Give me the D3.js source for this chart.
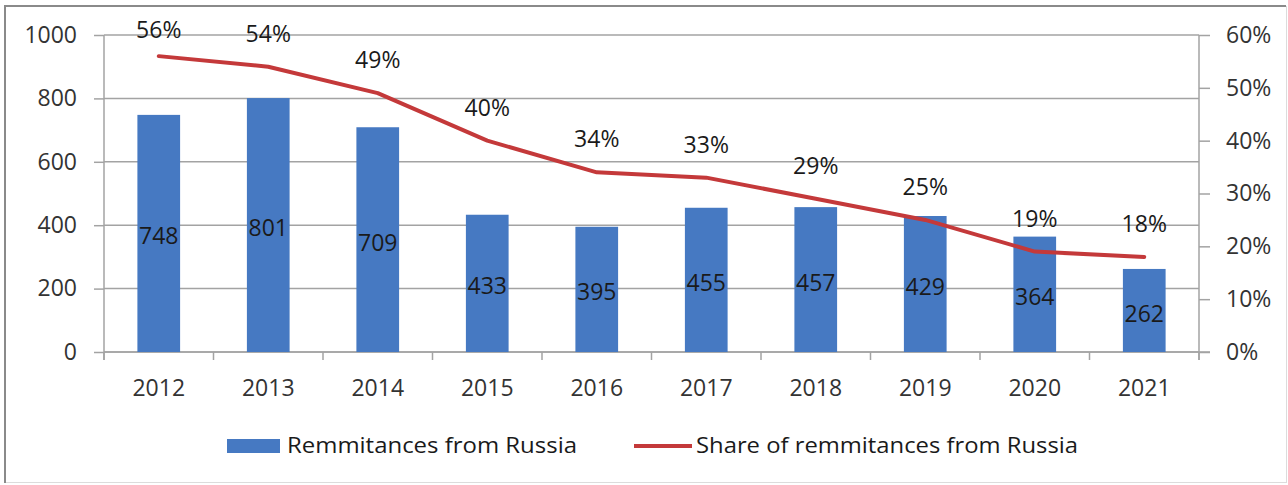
<!DOCTYPE html>
<html>
<head>
<meta charset="utf-8">
<script src="https://cdn.jsdelivr.net/npm/d3@7"></script>
<style>
  body { margin: 0; background: #fff; }
  svg { display: block; font-family: "Open Sans", sans-serif; }
</style>
</head>
<body>
<div class="canvas"></div>
<script>
// data
const years = ['2012', '2013', '2014', '2015', '2016', '2017', '2018', '2019', '2020', '2021'];
const remittances = [748, 801, 709, 433, 395, 455, 457, 429, 364, 262];
const shares = [56, 54, 49, 40, 34, 33, 29, 25, 19, 18];
const leftTicks = [0, 200, 400, 600, 800, 1000];
const rightTicks = [0, 10, 20, 30, 40, 50, 60];
const seriesNames = ['Remmitances from Russia', 'Share of remmitances from Russia'];

const width = 1288, height = 485;
const plot = { left: 104, right: 1199, top: 35, bottom: 352 };

const svg = d3.select('.canvas')
  .append('svg')
  .attr('width', width)
  .attr('height', height);

// chart frame
svg.append('rect')
  .attr('x', 4.5).attr('y', 6.5)
  .attr('width', 1282).attr('height', 476)
  .attr('fill', '#fff')
  .attr('stroke', '#dcdcdc')
  .attr('stroke-width', 1);
svg.append('path')
  .attr('d', 'M5,483 V6 H1286')
  .attr('fill', 'none')
  .attr('stroke', '#8a8a8a')
  .attr('stroke-width', 2);

// scales
const xCat = d3.scaleBand()
  .domain(years)
  .range([plot.left, plot.right]);

const xBar = d3.scaleBand()
  .domain(years)
  .range([plot.left, plot.right])
  .paddingInner(0.61)
  .paddingOuter(0.305);

const y = d3.scaleLinear()
  .domain([0, 1000])
  .range([plot.bottom, plot.top]);

const yR = d3.scaleLinear()
  .domain([0, 60])
  .range([plot.bottom, plot.top]);

const gridColor = '#a3a3a3';

// gridlines
svg.append('g')
  .selectAll('line')
  .data(leftTicks)
  .enter()
  .append('line')
  .attr('x1', plot.left).attr('x2', plot.right)
  .attr('y1', d => y(d)).attr('y2', d => y(d))
  .attr('stroke', gridColor)
  .attr('stroke-width', 1.5);

// left axis
const yAxis = d3.axisLeft(y)
  .tickValues(leftTicks)
  .tickSize(10)
  .tickPadding(17)
  .tickFormat(d => `${d}`);
const yAxisGroup = svg.append('g')
  .attr('transform', `translate(${plot.left}, 0)`)
  .call(yAxis);

// right axis
const yAxisR = d3.axisRight(yR)
  .tickValues(rightTicks)
  .tickSize(11)
  .tickPadding(16)
  .tickFormat(d => `${d}%`);
const yAxisRGroup = svg.append('g')
  .attr('transform', `translate(${plot.right}, 0)`)
  .call(yAxisR);

// bottom axis (labels at category centres, ticks between categories)
const xAxis = d3.axisBottom(xCat)
  .tickSize(0)
  .tickPadding(28);
const xAxisGroup = svg.append('g')
  .attr('transform', `translate(0, ${plot.bottom})`)
  .call(xAxis);

xAxisGroup.selectAll('.tick.sep')
  .data(years.map(d => xCat(d)).concat([plot.right]))
  .enter()
  .append('line')
  .attr('class', 'sep')
  .attr('x1', d => d).attr('x2', d => d)
  .attr('y1', 0).attr('y2', 8)
  .attr('stroke', gridColor)
  .attr('stroke-width', 1.5);

[yAxisGroup, yAxisRGroup, xAxisGroup].forEach(g => {
  g.select('.domain').attr('stroke', gridColor).attr('stroke-width', 1.5);
  g.selectAll('.tick line').attr('stroke', gridColor).attr('stroke-width', 1.5);
  g.selectAll('text')
    .attr('font-size', 23)
    .attr('font-family', '"Open Sans", sans-serif')
    .attr('fill', '#333');
});
xAxisGroup.select('.domain').attr('d', `M${plot.left},0H${plot.right + 11}`);
yAxisGroup.select('.domain').attr('d', `M0,${plot.top}V${plot.bottom + 8}`);
yAxisRGroup.select('.domain').attr('d', `M0,${plot.top}V${plot.bottom + 8}`);

// bars
svg.append('g')
  .selectAll('rect')
  .data(remittances)
  .enter()
  .append('rect')
  .attr('x', (d, i) => xBar(years[i]))
  .attr('y', d => y(d))
  .attr('width', xBar.bandwidth())
  .attr('height', d => plot.bottom - y(d))
  .attr('fill', '#4679c2');

// line
const line = d3.line()
  .x((d, i) => xCat(years[i]) + xCat.bandwidth() / 2)
  .y(d => yR(d));

svg.append('path')
  .datum(shares)
  .attr('d', line)
  .attr('fill', 'none')
  .attr('stroke', '#c4393a')
  .attr('stroke-width', 4)
  .attr('stroke-linejoin', 'round')
  .attr('stroke-linecap', 'round');

// bar value labels (centred in bar)
svg.append('g')
  .selectAll('text')
  .data(remittances)
  .enter()
  .append('text')
  .attr('x', (d, i) => xCat(years[i]) + xCat.bandwidth() / 2)
  .attr('y', d => y(d / 2) + 3)
  .attr('dy', '0.35em')
  .attr('text-anchor', 'middle')
  .attr('font-size', 23)
  .attr('fill', '#1a1a1a')
  .text(d => d);

// share labels (above points, kept inside the chart top)
svg.append('g')
  .selectAll('text')
  .data(shares)
  .enter()
  .append('text')
  .attr('x', (d, i) => xCat(years[i]) + xCat.bandwidth() / 2)
  .attr('y', d => Math.max(yR(d) - 33, 30))
  .attr('dy', '0.35em')
  .attr('text-anchor', 'middle')
  .attr('font-size', 23)
  .attr('fill', '#1a1a1a')
  .text(d => `${d}%`);

// legend
const legend = svg.append('g').attr('font-size', 21).attr('fill', '#1a1a1a');
legend.append('rect')
  .attr('x', 227).attr('y', 439)
  .attr('width', 53).attr('height', 14)
  .attr('fill', '#4679c2');
legend.append('text')
  .attr('x', 287).attr('y', 446).attr('dy', '0.35em')
  .attr('textLength', 290).attr('lengthAdjust', 'spacingAndGlyphs')
  .text(seriesNames[0]);
legend.append('line')
  .attr('x1', 634).attr('x2', 692)
  .attr('y1', 446).attr('y2', 446)
  .attr('stroke', '#c4393a')
  .attr('stroke-width', 4);
legend.append('text')
  .attr('x', 696).attr('y', 446).attr('dy', '0.35em')
  .attr('textLength', 382).attr('lengthAdjust', 'spacingAndGlyphs')
  .text(seriesNames[1]);
</script>
</body>
</html>
